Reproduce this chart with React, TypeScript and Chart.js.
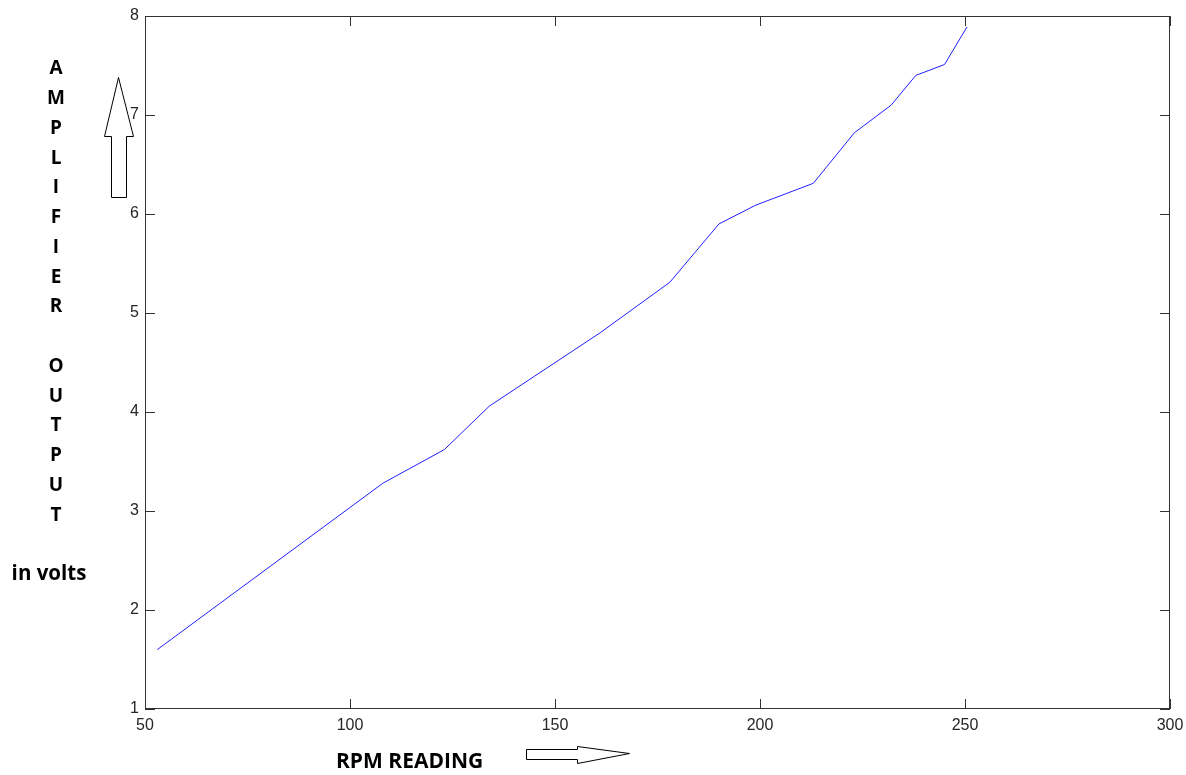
import { useEffect, useRef } from "react";
import { Chart, registerables } from "chart.js";

Chart.register(...registerables);

// ---- data ----
const rpmReading = [53, 108, 123, 134, 161, 178, 190, 199, 213, 223, 232, 238, 245, 250.5];
const amplifierVolts = [1.6, 3.28, 3.62, 4.06, 4.8, 5.31, 5.9, 6.09, 6.31, 6.82, 7.1, 7.4, 7.51, 7.89];
const xTickValues = [50, 100, 150, 200, 250, 300];
const yTickValues = [1, 2, 3, 4, 5, 6, 7, 8];
const yTitleLetters = ["A", "M", "P", "L", "I", "F", "I", "E", "R", "", "O", "U", "T", "P", "U", "T"];
const yTitleUnit = "in volts";
const xTitle = "RPM READING";

const W = 1186;
const H = 775;

const decorPlugin = {
  id: "decor",
  afterDraw(chart: any) {
    const { ctx, chartArea: a, scales } = chart;
    const xs = scales.x;
    const ys = scales.y;
    ctx.save();
    // frame
    ctx.strokeStyle = "#333333";
    ctx.lineWidth = 1;
    ctx.strokeRect(a.left + 0.5, a.top + 0.5, a.right - a.left - 1, a.bottom - a.top - 1);
    // inward ticks on all sides
    const tl = 10;
    ctx.beginPath();
    xTickValues.forEach((v) => {
      const px = Math.round(xs.getPixelForValue(v)) + 0.5;
      ctx.moveTo(px, a.bottom);
      ctx.lineTo(px, a.bottom - tl);
      ctx.moveTo(px, a.top);
      ctx.lineTo(px, a.top + tl);
    });
    yTickValues.forEach((v) => {
      const py = Math.round(ys.getPixelForValue(v)) + 0.5;
      ctx.moveTo(a.left, py);
      ctx.lineTo(a.left + tl, py);
      ctx.moveTo(a.right, py);
      ctx.lineTo(a.right - tl, py);
    });
    ctx.stroke();

    // vertical y title
    ctx.fillStyle = "#000000";
    ctx.textAlign = "center";
    ctx.textBaseline = "middle";
    ctx.font = "bold 19px 'Open Sans'";
    yTitleLetters.forEach((ch, i) => {
      if (ch) ctx.fillText(ch, 56, 69 + i * 29.75);
    });
    ctx.font = "bold 20.5px 'Open Sans'";
    ctx.fillText(yTitleUnit, 49, 574);

    // x title
    ctx.font = "bold 21px 'Open Sans'";
    ctx.textAlign = "left";
    ctx.fillText(xTitle, 336, 762);

    // up arrow
    ctx.fillStyle = "#ffffff";
    ctx.strokeStyle = "#000000";
    ctx.lineWidth = 1;
    ctx.beginPath();
    ctx.moveTo(118.5, 77.5);
    ctx.lineTo(133.5, 136.5);
    ctx.lineTo(126.5, 136.5);
    ctx.lineTo(126.5, 197.5);
    ctx.lineTo(111.5, 197.5);
    ctx.lineTo(111.5, 136.5);
    ctx.lineTo(104.5, 136.5);
    ctx.closePath();
    ctx.fill();
    ctx.stroke();

    // right arrow
    ctx.beginPath();
    ctx.moveTo(526.5, 749.5);
    ctx.lineTo(577.5, 749.5);
    ctx.lineTo(577.5, 746.5);
    ctx.lineTo(629.5, 753.5);
    ctx.lineTo(577.5, 763.5);
    ctx.lineTo(577.5, 759.5);
    ctx.lineTo(526.5, 759.5);
    ctx.closePath();
    ctx.fill();
    ctx.stroke();
    ctx.restore();
  },
};

const zeroPadding = (s: any) => {
  s.paddingLeft = 0;
  s.paddingRight = 0;
  s.paddingTop = 0;
  s.paddingBottom = 0;
};

export default function App() {
  const canvasRef = useRef<HTMLCanvasElement | null>(null);

  useEffect(() => {
    const canvas = canvasRef.current;
    if (!canvas) return;
    const chart = new Chart(canvas, {
      type: "line",
      data: {
        datasets: [
          {
            label: "Amplifier output",
            data: rpmReading.map((x, i) => ({ x, y: amplifierVolts[i] })),
            borderColor: "#2020ff",
            borderWidth: 1,
            pointRadius: 0,
            tension: 0,
            fill: false,
          },
        ],
      },
      options: {
        animation: false,
        responsive: false,
        devicePixelRatio: 1,
        layout: { padding: { top: 16, right: 16, left: 0, bottom: 0 } },
        plugins: {
          legend: { display: false },
          tooltip: { enabled: false },
          title: { display: false },
        },
        scales: {
          x: {
            type: "linear",
            min: 50,
            max: 300,
            afterFit: (s: any) => {
              s.height = 66;
              zeroPadding(s);
            },
            afterBuildTicks: (s: any) => {
              s.ticks = xTickValues.map((v) => ({ value: v }));
            },
            grid: { display: false, drawTicks: false },
            border: { display: false },
            ticks: {
              padding: 7,
              color: "#262626",
              font: { family: "'Liberation Sans'", size: 16 },
              maxRotation: 0,
              autoSkip: false,
            },
          },
          y: {
            type: "linear",
            min: 1,
            max: 8,
            afterFit: (s: any) => {
              s.width = 145;
              zeroPadding(s);
            },
            afterBuildTicks: (s: any) => {
              s.ticks = yTickValues.map((v) => ({ value: v }));
            },
            grid: { display: false, drawTicks: false },
            border: { display: false },
            ticks: {
              padding: 6,
              color: "#262626",
              font: { family: "'Liberation Sans'", size: 16 },
              autoSkip: false,
            },
          },
        },
      },
      plugins: [decorPlugin],
    });
    return () => chart.destroy();
  }, []);

  return (
    <div style={{ position: "absolute", left: 0, top: 0, width: W, height: H, background: "#ffffff" }}>
      <canvas ref={canvasRef} width={W} height={H} style={{ display: "block", width: W, height: H }} />
    </div>
  );
}
